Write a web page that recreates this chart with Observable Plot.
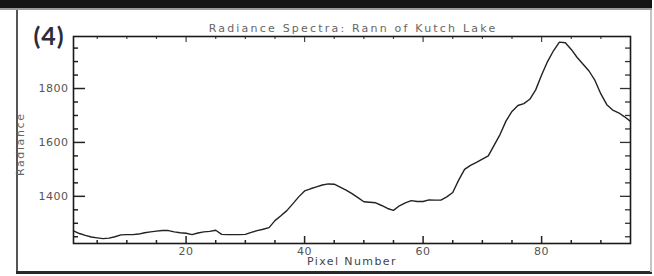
<!DOCTYPE html>
<html>
<head>
<meta charset="utf-8">
<script src="https://cdn.jsdelivr.net/npm/d3@7"></script>
<script src="https://cdn.jsdelivr.net/npm/@observablehq/plot@0.6"></script>
<style>
  html, body { margin: 0; padding: 0; background: #fff; }
  #wrap { position: relative; width: 654px; height: 276px; overflow: hidden; }
  #wrap svg { position: absolute; left: 0; top: 0; }
  .bd { position: absolute; }
</style>
</head>
<body>
<div id="wrap">
  <div class="bd" style="left:0;top:0;width:652px;height:8px;background:#151515"></div>
  <div class="bd" style="left:0;top:8px;width:652px;height:2px;background:#9a9a9a"></div>
  <div class="bd" style="left:16px;top:10px;width:2px;height:262px;background:#555"></div>
  <div class="bd" style="left:16px;top:271px;width:636px;height:3px;background:#2a2a2a"></div>
  <div class="bd" style="left:650px;top:10px;width:2px;height:262px;background:#c4c4c4"></div>
</div>
<script>
// ---- data ----
const pixels = d3.range(1, 96);
const radiance = [
  1272, 1262, 1255, 1249, 1246, 1243, 1245, 1250, 1257, 1258,
  1258, 1260, 1265, 1268, 1271, 1273, 1273, 1268, 1265, 1263,
  1258, 1264, 1268, 1270, 1274, 1259, 1258, 1258, 1258, 1259,
  1266, 1273, 1278, 1284, 1310, 1328, 1347, 1372, 1398, 1420,
  1428, 1435, 1442, 1446, 1445, 1434, 1423, 1410, 1395, 1380,
  1378, 1376, 1366, 1355, 1348, 1365, 1376, 1384, 1381, 1381,
  1387, 1386, 1386, 1398, 1414, 1460, 1500, 1515, 1526, 1538,
  1550, 1590, 1630, 1680, 1715, 1737, 1744, 1760, 1795, 1850,
  1900, 1940, 1972, 1970, 1945, 1915, 1890, 1865, 1830, 1780,
  1740, 1720, 1710, 1695, 1678
];
const xMajorTicks = [20, 40, 60, 80];
const xMinorTicks = [5, 10, 15, 25, 30, 35, 45, 50, 55, 65, 70, 75, 85, 90];
const yMajorTicks = [1400, 1600, 1800];
const yMinorTicks = [1250, 1300, 1350, 1450, 1500, 1550, 1650, 1700, 1750, 1850, 1900, 1950];
const titleText = "Radiance Spectra: Rann of Kutch Lake";
const xLabel = "Pixel Number";
const yLabel = "Radiance";
const panelLabel = "(4)";

const data = pixels.map((p, i) => ({pixel: p, value: radiance[i]}));

// ---- layout ----
const W = 654, Ht = 276;
const mL = 73, mR = 24, mT = 36, mB = 33;
const FH = Ht - mT - mB;
const FW = W - mL - mR;
const axisFont = "DejaVu Sans, sans-serif";

const chart = Plot.plot({
  width: W,
  height: Ht,
  marginLeft: mL,
  marginRight: mR,
  marginTop: mT,
  marginBottom: mB,
  style: {background: "transparent", fontFamily: axisFont, fontSize: "11px", color: "#555"},
  x: {domain: [1, 95], ticks: xMajorTicks, tickSize: 0, tickPadding: 4, label: null, tickFormat: d3.format("d")},
  y: {domain: [1225, 1993], ticks: yMajorTicks, tickSize: 0, tickPadding: 5, label: null, tickFormat: d3.format("d")},
  marks: [
    Plot.ruleX(xMajorTicks, {insetTop: FH - 7, stroke: "#222", strokeWidth: 1.5}),
    Plot.ruleX(xMinorTicks, {insetTop: FH - 3, stroke: "#222", strokeWidth: 1.5}),
    Plot.ruleX(xMajorTicks, {insetBottom: FH - 6, stroke: "#444", strokeWidth: 1.2}),
    Plot.ruleX(xMinorTicks, {insetBottom: FH - 3, stroke: "#444", strokeWidth: 1.2}),
    Plot.ruleY(yMajorTicks, {insetRight: FW - 12, stroke: "#222", strokeWidth: 1.5}),
    Plot.ruleY(yMinorTicks, {insetRight: FW - 5, stroke: "#222", strokeWidth: 1.5}),
    Plot.ruleY(yMajorTicks, {insetLeft: FW - 10, stroke: "#333", strokeWidth: 1.3}),
    Plot.ruleY(yMinorTicks, {insetLeft: FW - 5, stroke: "#333", strokeWidth: 1.3}),
    Plot.frame({stroke: "#1a1a1a", strokeWidth: 1.6}),
    Plot.line(data, {x: "pixel", y: "value", stroke: "#222", strokeWidth: 1.4}),
    Plot.text([titleText], {frameAnchor: "top", dy: -12, dx: 1, fill: "#666", fontSize: 11}),
    Plot.text([xLabel], {frameAnchor: "bottom", dy: 21, fill: "#444", fontSize: 11}),
    Plot.text([yLabel], {frameAnchor: "left", dx: -53, dy: 36, rotate: -90, fill: "#666", fontSize: 11}),
    Plot.text([panelLabel], {frameAnchor: "top-left", textAnchor: "start", dx: -40, dy: -9, fill: "#2b2d3a", fontSize: 25, fontWeight: "bold", fontFamily: "Lato, sans-serif"})
  ]
});

// letter spacing to mimic the wide vector font
const spacing = new Map([[titleText, "2.2px"], [xLabel, "1.4px"], [yLabel, "1.6px"], [panelLabel, "1px"]]);
d3.select(chart).selectAll("text").each(function() {
  const t = this.textContent;
  if (spacing.has(t)) this.style.letterSpacing = spacing.get(t);
  else if (/^\d+$/.test(t)) this.style.letterSpacing = "0.5px";
});
document.getElementById("wrap").appendChild(chart);
</script>
</body>
</html>
